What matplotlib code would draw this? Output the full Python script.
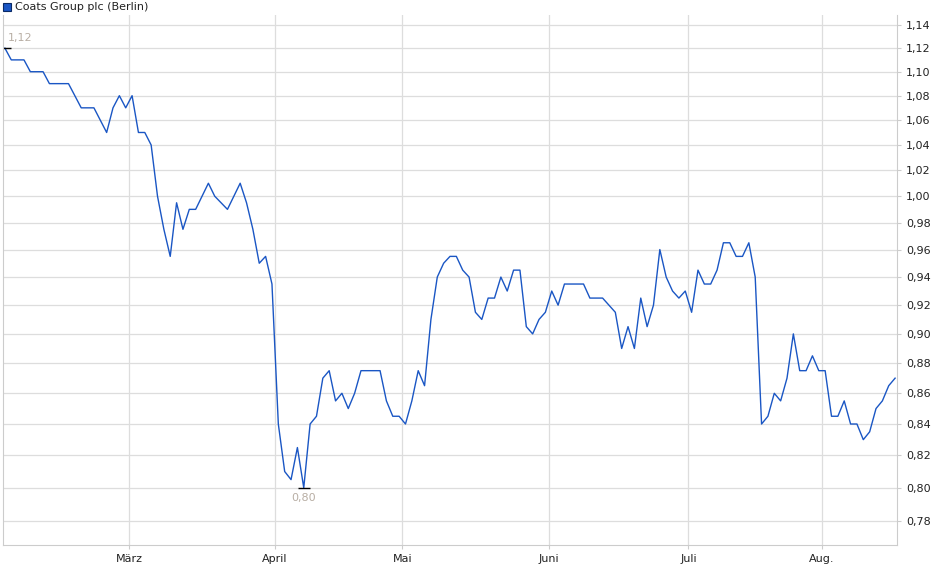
import numpy as np
import pandas as pd
import matplotlib.pyplot as plt
from matplotlib.ticker import FixedLocator, NullLocator, NullFormatter

# DATA ########################################################################

feb = [1.12, 1.11, 1.11, 1.11, 1.10, 1.10, 1.10, 1.09, 1.09, 1.09,
       1.09, 1.08, 1.07, 1.07, 1.07, 1.06, 1.05, 1.07, 1.08, 1.07]
mar = [1.08, 1.05, 1.05, 1.04, 1.00, 0.975, 0.955, 0.995, 0.975, 0.99,
       0.99, 1.00, 1.01, 1.00, 0.995, 0.99, 1.00, 1.01, 0.995, 0.975,
       0.95, 0.955, 0.935]
apr = [0.84, 0.81, 0.805, 0.825, 0.80, 0.84, 0.845, 0.87, 0.875, 0.855,
       0.86, 0.85, 0.86, 0.875, 0.875, 0.875, 0.875, 0.855, 0.845, 0.845]
may = [0.84, 0.855, 0.875, 0.865, 0.91, 0.94, 0.95, 0.955, 0.955, 0.945,
       0.94, 0.915, 0.91, 0.925, 0.925, 0.94, 0.93, 0.945, 0.945, 0.905,
       0.90, 0.91, 0.915]
jun = [0.93, 0.92, 0.935, 0.935, 0.935, 0.935, 0.925, 0.925, 0.925, 0.92,
       0.915, 0.89, 0.905, 0.89, 0.925, 0.905, 0.92, 0.96, 0.94, 0.93,
       0.925, 0.93]
jul = [0.915, 0.945, 0.935, 0.935, 0.945, 0.965, 0.965, 0.955, 0.955, 0.965,
       0.94, 0.84, 0.845, 0.86, 0.855, 0.87, 0.90, 0.875, 0.875, 0.885, 0.875]
aug = [0.875, 0.845, 0.845, 0.855, 0.84, 0.84, 0.83, 0.835, 0.85, 0.855,
       0.865, 0.87]

prices = feb + mar + apr + may + jun + jul + aug
dates = pd.bdate_range("2023-02-01", periods=len(prices))

month_labels = ["März", "April", "Mai", "Juni", "Juli", "Aug."]
y_ticks = [0.78, 0.80, 0.82, 0.84, 0.86, 0.88, 0.90, 0.92, 0.94, 0.96,
           0.98, 1.00, 1.02, 1.04, 1.06, 1.08, 1.10, 1.12, 1.14]

LINE = "#1a56c4"
LABEL = "#b8aea4"

# trading-day axis: equal spacing per session, month ticks at first session
idx = np.arange(len(prices))
month = dates.month
month_pos = [int(np.argmax(month == m)) - 0.5 for m in range(3, 9)]

# FIGURE ######################################################################

fig = plt.figure(figsize=(9.4, 5.79), dpi=100)
ax = fig.add_axes([3 / 940, 34 / 579, 894 / 940, 530 / 579])

ax.plot(idx, prices, color=LINE, lw=1.0)

ax.set_yscale("log")
ax.set_ylim(0.7657, 1.1488)
ax.set_xlim(-0.3, len(prices) - 0.7)

ax.yaxis.set_major_locator(FixedLocator(y_ticks))
ax.yaxis.set_minor_locator(NullLocator())
ax.yaxis.set_minor_formatter(NullFormatter())
ax.set_yticklabels([f"{v:.2f}".replace(".", ",") for v in y_ticks])
ax.yaxis.tick_right()
ax.set_xticks(month_pos)
ax.set_xticklabels(month_labels)
ax.tick_params(axis="both", labelsize=8, length=3, color="#cccccc", labelcolor="#222222")

ax.grid(True, color="#dddddd", lw=0.9)
ax.set_axisbelow(True)
for s in ["left", "right", "bottom"]:
    ax.spines[s].set_color("#cccccc")
ax.spines["top"].set_visible(False)

# high / low markers
i_max = int(np.argmax(prices))
i_min = int(np.argmin(prices))
ax.plot(idx[i_max], prices[i_max], marker="_", color="black", ms=9, mew=1)
ax.plot(idx[i_min], prices[i_min], marker="_", color="black", ms=9, mew=1)
ax.annotate(f"{prices[i_max]:.2f}".replace(".", ","), (idx[i_max], prices[i_max]),
            xytext=(2, 4), textcoords="offset points", fontsize=8, color=LABEL,
            ha="left", va="bottom")
ax.annotate(f"{prices[i_min]:.2f}".replace(".", ","), (idx[i_min], prices[i_min]),
            xytext=(0, -4), textcoords="offset points", fontsize=8, color=LABEL,
            ha="center", va="top")

# legend
fig.patches.append(plt.Rectangle((3 / 940, 1 - 11 / 579), 8 / 940, 8 / 579,
                                 transform=fig.transFigure, facecolor=LINE,
                                 edgecolor="#0a2a66", lw=0.8))
fig.text(15 / 940, 1 - 7 / 579, "Coats Group plc (Berlin)", fontsize=8,
         va="center", ha="left", color="#222222")

plt.savefig("out.png", dpi=100)
